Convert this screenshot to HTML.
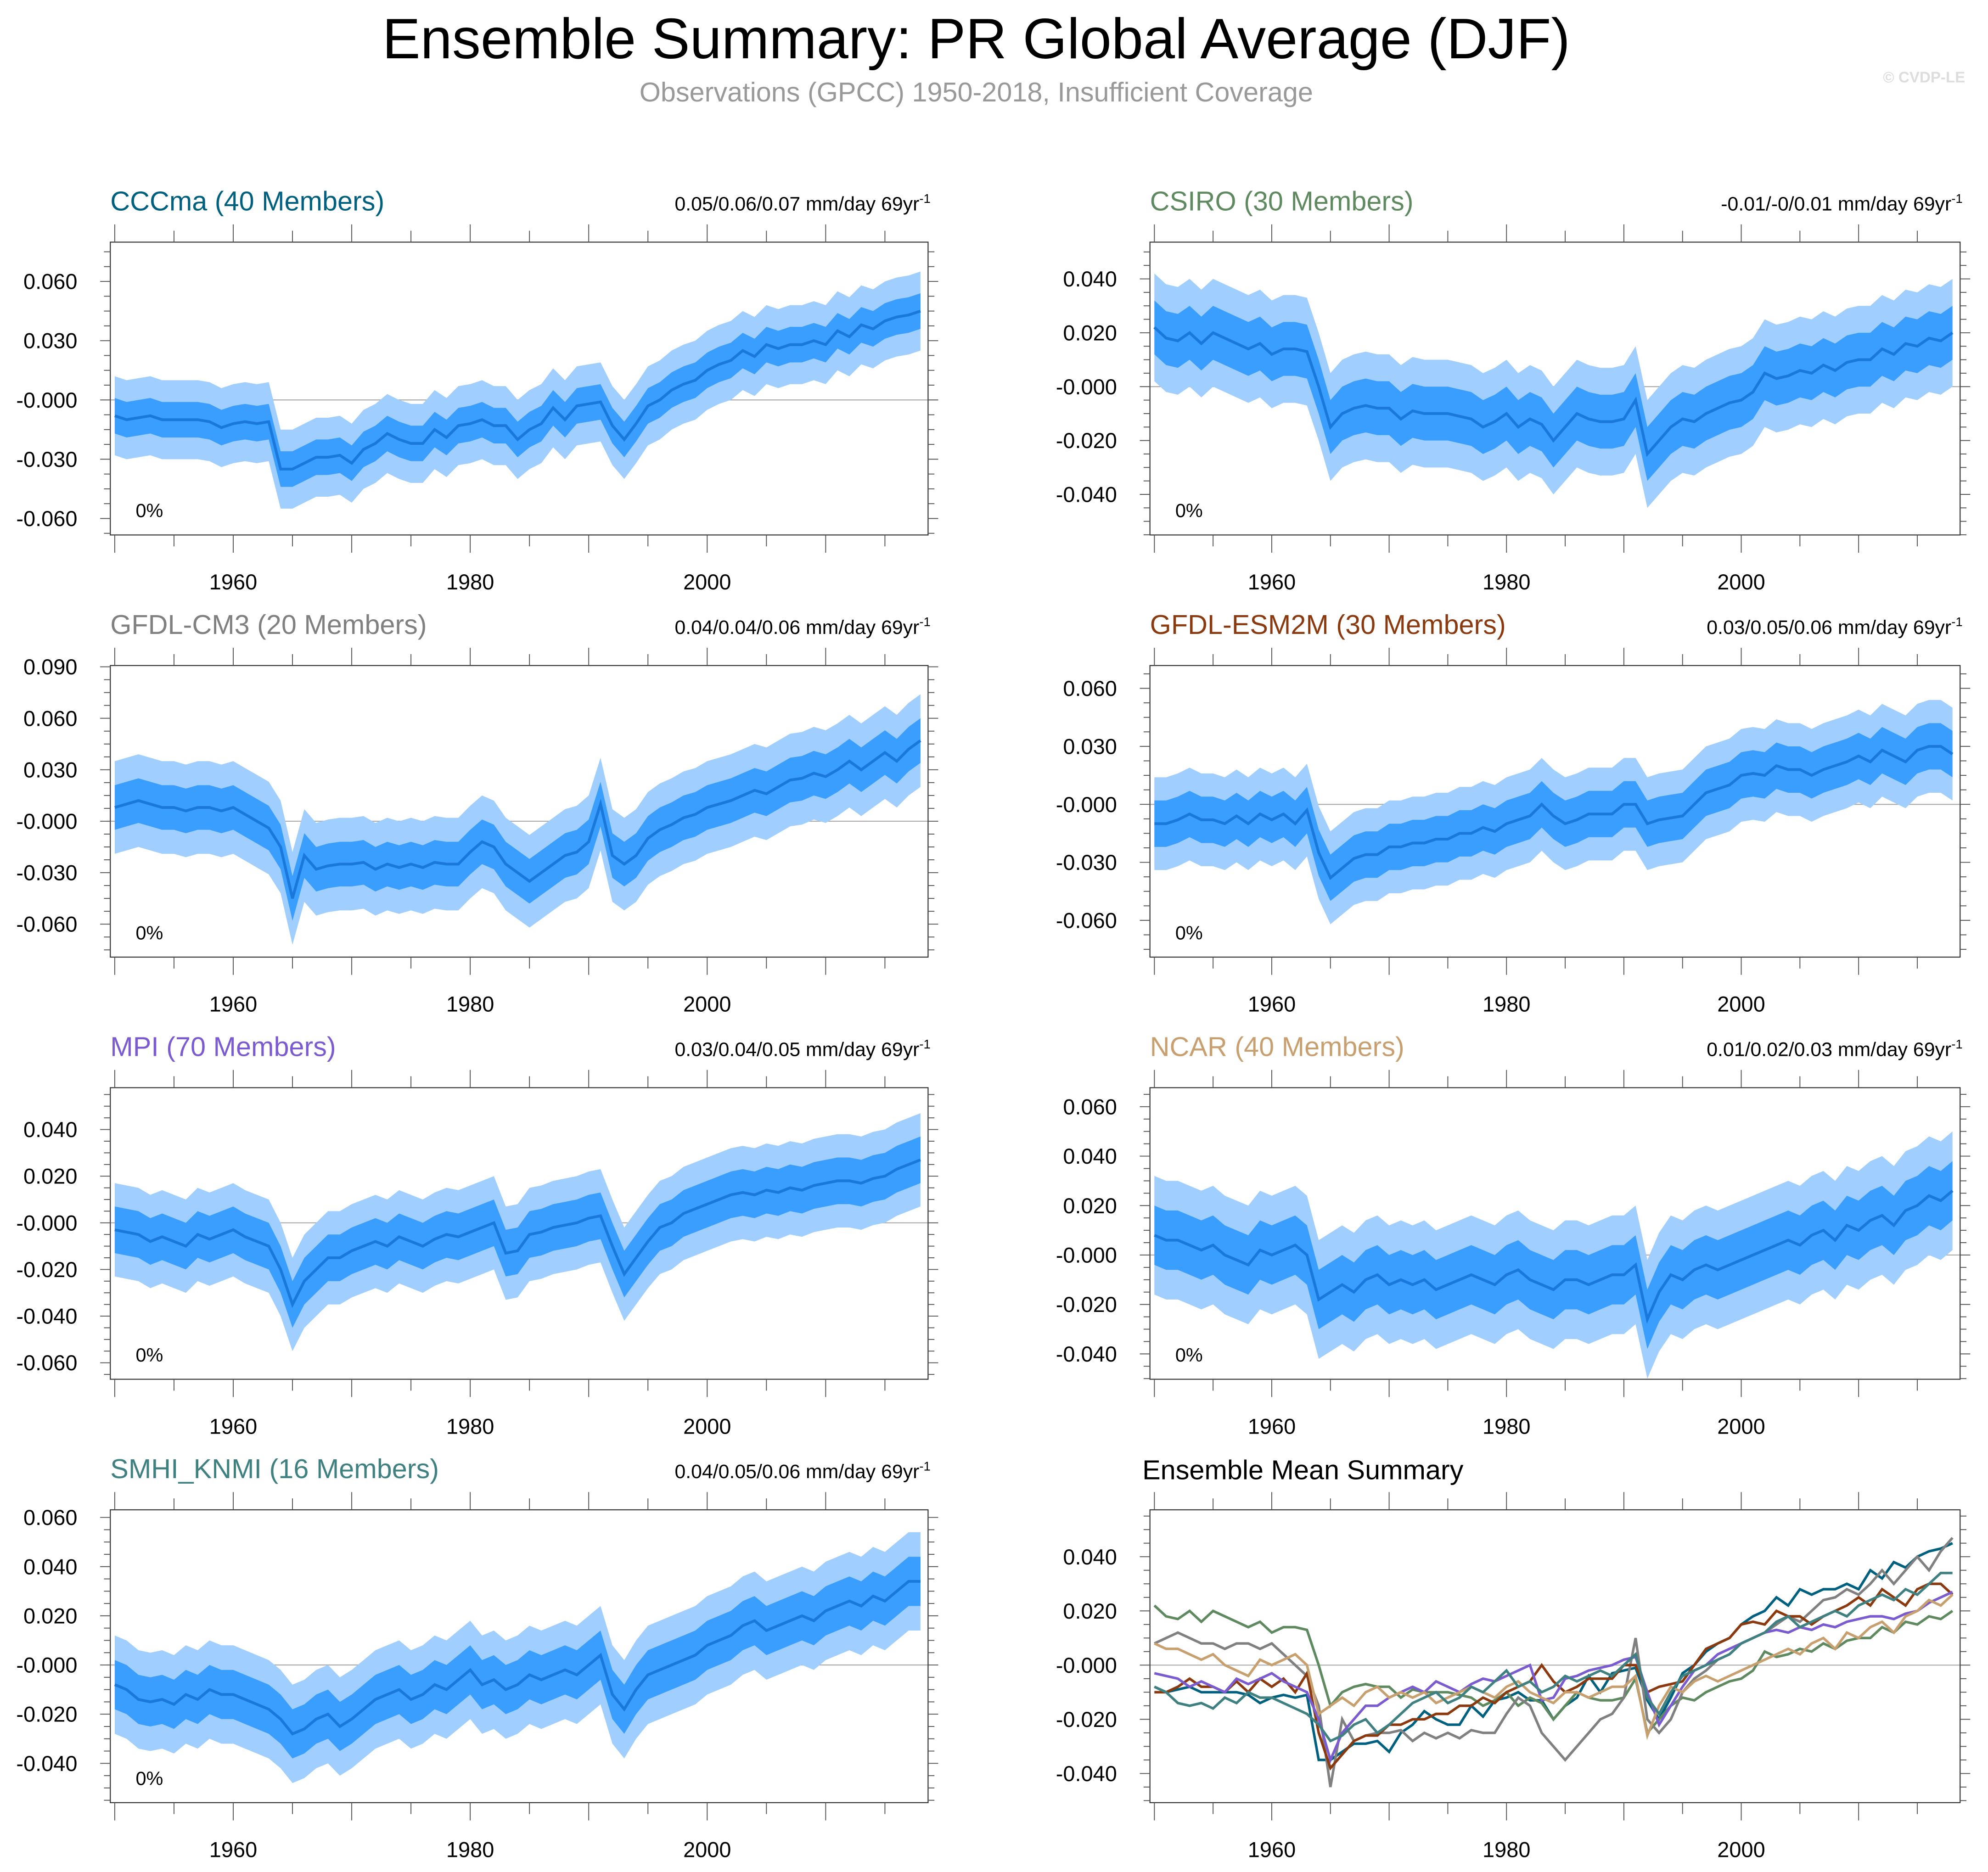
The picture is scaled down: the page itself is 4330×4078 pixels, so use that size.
<!DOCTYPE html>
<html><head><meta charset="utf-8"><style>
html,body{margin:0;padding:0;background:#fff}
svg{display:block}
text{font-family:"Liberation Sans",sans-serif}
</style></head><body>
<svg id="fig" width="4330" height="4078" viewBox="0 0 1568 1476.7" preserveAspectRatio="none" xmlns="http://www.w3.org/2000/svg">
<rect width="1568" height="1477" fill="#fff"/>
<text x="770" y="46" font-size="45" text-anchor="middle" fill="#000">Ensemble Summary: PR Global Average (DJF)</text>
<text x="770" y="80" font-size="21.5" text-anchor="middle" fill="#999">Observations (GPCC) 1950-2018, Insufficient Coverage</text>
<text x="1550" y="65" font-size="12" font-weight="bold" text-anchor="end" fill="#ddd">© CVDP-LE</text>
<g id="plots"></g>
</svg>
<script>
const years = Array.from({length:69},(_,i)=>1950+i);
const meanCCCma=[-0.008,-0.01,-0.009,-0.008,-0.01,-0.01,-0.01,-0.01,-0.011,-0.014,-0.012,-0.011,-0.012,-0.011,-0.035,-0.035,-0.032,-0.029,-0.029,-0.028,-0.032,-0.025,-0.022,-0.017,-0.02,-0.022,-0.022,-0.015,-0.019,-0.013,-0.012,-0.01,-0.013,-0.013,-0.02,-0.015,-0.012,-0.004,-0.01,-0.003,-0.002,-0.001,-0.013,-0.02,-0.012,-0.003,0.0,0.005,0.008,0.01,0.015,0.018,0.02,0.025,0.022,0.028,0.026,0.028,0.028,0.03,0.028,0.035,0.032,0.038,0.036,0.04,0.042,0.043,0.045];
const meanCSIRO=[0.022,0.018,0.017,0.02,0.016,0.02,0.018,0.016,0.014,0.016,0.012,0.014,0.014,0.013,0.0,-0.015,-0.01,-0.008,-0.007,-0.008,-0.008,-0.012,-0.009,-0.01,-0.01,-0.01,-0.011,-0.012,-0.015,-0.013,-0.01,-0.015,-0.012,-0.014,-0.02,-0.015,-0.01,-0.012,-0.013,-0.013,-0.012,-0.005,-0.025,-0.02,-0.015,-0.012,-0.013,-0.01,-0.008,-0.006,-0.005,-0.002,0.005,0.003,0.004,0.006,0.005,0.008,0.006,0.009,0.01,0.01,0.014,0.012,0.016,0.015,0.018,0.017,0.02];
const meanCM3=[0.008,0.01,0.012,0.01,0.008,0.008,0.006,0.008,0.008,0.006,0.008,0.004,0.0,-0.004,-0.015,-0.045,-0.02,-0.028,-0.026,-0.025,-0.025,-0.024,-0.028,-0.025,-0.027,-0.025,-0.027,-0.024,-0.025,-0.025,-0.018,-0.012,-0.015,-0.025,-0.03,-0.035,-0.03,-0.025,-0.02,-0.018,-0.012,0.01,-0.02,-0.025,-0.02,-0.01,-0.005,-0.002,0.002,0.004,0.008,0.01,0.012,0.015,0.018,0.016,0.02,0.024,0.025,0.028,0.026,0.03,0.035,0.03,0.035,0.04,0.035,0.042,0.047];
const meanESM=[-0.01,-0.01,-0.008,-0.005,-0.008,-0.008,-0.01,-0.006,-0.01,-0.005,-0.008,-0.005,-0.01,-0.003,-0.025,-0.038,-0.033,-0.028,-0.026,-0.026,-0.022,-0.022,-0.02,-0.02,-0.018,-0.018,-0.015,-0.015,-0.012,-0.014,-0.01,-0.008,-0.006,0.0,-0.006,-0.01,-0.008,-0.005,-0.005,-0.005,0.0,0.0,-0.01,-0.008,-0.007,-0.006,0.0,0.006,0.008,0.01,0.015,0.016,0.015,0.02,0.018,0.018,0.015,0.018,0.02,0.022,0.025,0.022,0.028,0.025,0.022,0.028,0.03,0.03,0.026];
const meanMPI=[-0.003,-0.004,-0.005,-0.008,-0.006,-0.008,-0.01,-0.005,-0.007,-0.005,-0.003,-0.006,-0.008,-0.01,-0.02,-0.035,-0.025,-0.02,-0.015,-0.015,-0.012,-0.01,-0.008,-0.01,-0.006,-0.008,-0.01,-0.007,-0.005,-0.006,-0.004,-0.002,0.0,-0.013,-0.012,-0.005,-0.004,-0.002,-0.001,0.0,0.002,0.003,-0.01,-0.022,-0.015,-0.008,-0.002,0.0,0.004,0.006,0.008,0.01,0.012,0.013,0.012,0.014,0.013,0.015,0.014,0.016,0.017,0.018,0.018,0.017,0.019,0.02,0.023,0.025,0.027];
const meanNCAR=[0.008,0.006,0.006,0.004,0.002,0.004,0.0,-0.002,-0.004,0.002,0.0,0.002,0.004,0.0,-0.018,-0.015,-0.012,-0.015,-0.01,-0.008,-0.012,-0.01,-0.012,-0.01,-0.014,-0.012,-0.01,-0.008,-0.01,-0.012,-0.008,-0.006,-0.01,-0.012,-0.014,-0.01,-0.01,-0.012,-0.01,-0.008,-0.008,-0.004,-0.026,-0.015,-0.008,-0.01,-0.006,-0.004,-0.006,-0.004,-0.002,0.0,0.002,0.004,0.006,0.004,0.008,0.01,0.006,0.012,0.01,0.014,0.016,0.012,0.018,0.02,0.024,0.022,0.026];
const meanSMHI=[-0.008,-0.01,-0.014,-0.015,-0.014,-0.016,-0.012,-0.014,-0.01,-0.012,-0.012,-0.014,-0.016,-0.018,-0.022,-0.028,-0.026,-0.022,-0.02,-0.025,-0.022,-0.018,-0.014,-0.012,-0.01,-0.014,-0.012,-0.008,-0.01,-0.006,-0.002,-0.008,-0.006,-0.01,-0.008,-0.004,-0.006,-0.004,-0.002,-0.004,0.0,0.004,-0.012,-0.018,-0.01,-0.004,-0.002,0.0,0.002,0.004,0.008,0.01,0.012,0.016,0.018,0.014,0.016,0.018,0.02,0.018,0.022,0.024,0.026,0.024,0.028,0.026,0.03,0.034,0.034];
const innerW=[0.009,0.01,0.013,0.012,0.01,0.012,0.01];
const outerW=[0.02,0.02,0.027,0.024,0.02,0.024,0.02];
const names=["CCCma (40 Members)","CSIRO (30 Members)","GFDL-CM3 (20 Members)","GFDL-ESM2M (30 Members)","MPI (70 Members)","NCAR (40 Members)","SMHI_KNMI (16 Members)"];
const trends=["0.05/0.06/0.07","-0.01/-0/0.01","0.04/0.04/0.06","0.03/0.05/0.06","0.03/0.04/0.05","0.01/0.02/0.03","0.04/0.05/0.06"];
const yTicks=[[-0.06,-0.03,0,0.03,0.06],[-0.04,-0.02,0,0.02,0.04],[-0.06,-0.03,0,0.03,0.06,0.09],[-0.06,-0.03,0,0.03,0.06],[-0.06,-0.04,-0.02,0,0.02,0.04],[-0.04,-0.02,0,0.02,0.04,0.06],[-0.04,-0.02,0,0.02,0.04,0.06],[-0.04,-0.02,0,0.02,0.04]];
const xTicks=[1960,1980,2000];
const means=[meanCCCma,meanCSIRO,meanCM3,meanESM,meanMPI,meanNCAR,meanSMHI];
const colors=["#00607f","#5f8a60","#808080","#8b3a0f","#7b5bd0","#c8a070","#3f8080"];
const L=[[87,191,732,422,0.06,222,-0.06,409],[907,191,1546,422,0.04,220,-0.04,390],
[87,525,732,755,0.09,526,-0.06,729],[907,525,1546,755,0.06,543,-0.06,726],
[87,858,732,1088,0.04,891,-0.06,1075],[907,858,1546,1088,0.06,873,-0.04,1068],
[87,1191,732,1422,0.06,1197,-0.04,1391],[907,1191,1546,1422,0.04,1228,-0.04,1399]];
const NS="http://www.w3.org/2000/svg";
const root=document.getElementById('plots');
function mk(tag,at,par){const e=document.createElementNS(NS,tag);for(const k in at)e.setAttribute(k,at[k]);(par||root).appendChild(e);return e;}
function fmt(v){let s=Math.abs(v).toFixed(3);return (v<=0?"-":"")+s;}
for(let p=0;p<8;p++){
  const [l,t,r,b,v1,p1,v2,p2]=L[p];
  const x0=l+3.5, x1=r-6;
  const sx=y=>x0+(y-1950)*(x1-x0)/68;
  const sy=v=>p1+(v-v1)*(p2-p1)/(v2-v1);
  const g=mk('g',{});
  
  
  const cp='c'+p;
  const clip=mk('clipPath',{id:cp},g);mk('rect',{x:l,y:t,width:r-l,height:b-t},clip);
  const inner=mk('g',{'clip-path':'url(#'+cp+')'},g);
  mk('line',{x1:l,x2:r,y1:sy(0),y2:sy(0),stroke:'#aaa','stroke-width':0.8},inner);
  if(p<7){
    const m=means[p],iw=innerW[p],ow=outerW[p];
    const band=(w,col,name)=>{let d='M'+years.map((y,i)=>sx(y)+','+sy(m[i]+w)).join('L');
      d+='L'+years.slice().reverse().map((y,j)=>{const i=68-j;return sx(y)+','+sy(m[i]-w);}).join('L')+'Z';
      const e=mk('path',{d:d,fill:col},inner);
      
      };
    band(ow,'#a0cfff','outer-band');band(iw,'#3a9eff','inner-band');
    const ln=mk('path',{d:'M'+years.map((y,i)=>sx(y)+','+sy(m[i])).join('L'),fill:'none',stroke:'#1a78dc','stroke-width':2.2},inner);
    
    
    const tt=mk('text',{x:l,y:t-25,'font-size':21.5,fill:colors[p]},g);tt.textContent=names[p];
    
    
    const tr=mk('text',{x:r+2,y:t-25,'font-size':15.5,'text-anchor':'end',fill:'#000'},g);
    tr.innerHTML=trends[p]+' mm/day 69yr<tspan dy="-6" font-size="10">-1</tspan>';
    
    
    const pc=mk('text',{x:l+20,y:b-14,'font-size':15,fill:'#000'},g);pc.textContent='0%';
    
    
  } else {
    const tt=mk('text',{x:l-6,y:t-24,'font-size':21.5,fill:'#000'},g);tt.textContent='Ensemble Mean Summary';
    
    
    for(let k=0;k<7;k++){const m=means[k];
      const ln=mk('path',{d:'M'+years.map((y,i)=>sx(y)+','+sy(m[i])).join('L'),fill:'none',stroke:colors[k],'stroke-width':2},inner);
      
      }
  }
  mk('rect',{x:l,y:t,width:r-l,height:b-t,fill:'none',stroke:'#333','stroke-width':0.8},g);
  const yt=yTicks[p];const step=(yt[1]-yt[0])/4;
  const vmin=v1+(b-p1)/(p2-p1)*(v2-v1), vmax=v1+(t-p1)/(p2-p1)*(v2-v1);
  for(let v=yt[0]-8*step;v<=vmax+1e-9;v+=step){ if(v<vmin-1e-9)continue;
    const y=sy(v);const maj=yt.some(q=>Math.abs(q-v)<1e-6);const len=maj?8:5;
    mk('line',{x1:l-len,x2:l,y1:y,y2:y,stroke:'#555','stroke-width':0.7},g);
    mk('line',{x1:r,x2:r+len,y1:y,y2:y,stroke:'#555','stroke-width':0.7},g);}
  yt.forEach(v=>{const e=mk('text',{x:l-26,y:sy(v)+6,'font-size':17,'text-anchor':'end',fill:'#000'},g);
    
    
    e.textContent=fmt(v);});
  for(let y=1950;y<=2018;y+=5){const x=sx(y);const len=(y%10===0)?14:9;
    mk('line',{x1:x,x2:x,y1:t-len,y2:t,stroke:'#555','stroke-width':0.7},g);
    mk('line',{x1:x,x2:x,y1:b,y2:b+len,stroke:'#555','stroke-width':0.7},g);}
  xTicks.forEach(y=>{const e=mk('text',{x:sx(y),y:b+43,'font-size':17,'text-anchor':'middle',fill:'#000'},g);
    
    
    e.textContent=y;});
}
</script>
</body></html>
